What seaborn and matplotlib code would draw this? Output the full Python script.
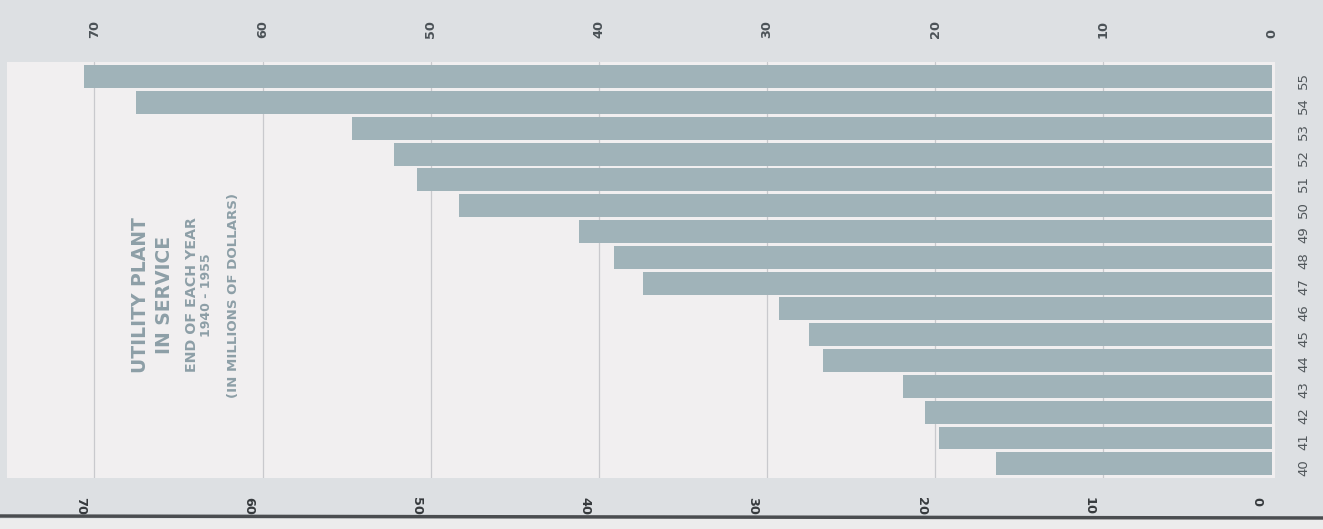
import pandas as pd
import matplotlib
matplotlib.use('Agg')
import matplotlib.pyplot as plt
import seaborn as sns
from matplotlib.lines import Line2D

# data (top bar = 1955)
years = ['55', '54', '53', '52', '51', '50', '49', '48', '47', '46', '45', '44', '43', '42', '41', '40']
plant = [70.6, 67.5, 54.7, 52.2, 50.8, 48.3, 41.2, 39.1, 37.4, 29.3, 27.5, 26.7, 21.9, 20.6, 19.8, 16.4]
value_ticks = [70, 60, 50, 40, 30, 20, 10, 0]
title_lines = ['UTILITY PLANT', 'IN SERVICE', 'END OF EACH YEAR', '1940 - 1955', '(IN MILLIONS OF DOLLARS)']

sns.set_style('white')
plt.rcParams['font.family'] = ['DejaVu Sans']

W, H = 1323, 529
bar_color = '#a0b3b9'
text_color = '#8d9fa7'

fig = plt.figure(figsize=(W / 100, H / 100), dpi=100, facecolor='#dde0e3')
ax = fig.add_axes([7 / W, 1 - 478 / H, 1268 / W, 416 / H])
ax.set_facecolor('#f1eff0')

df = pd.DataFrame({'year': years, 'plant': plant})
sns.barplot(data=df, x='plant', y='year', order=years, orient='h', color=bar_color,
            saturation=1, width=0.89, linewidth=0, ax=ax, zorder=2)

ax.set_xlim(75.2, -0.2)
ax.set_ylim(15.55, -0.57)
ax.set_xlabel('')
ax.set_ylabel('')
for s in ax.spines.values():
    s.set_visible(False)

# value axis on top, rotated like the page
ax.set_xticks(value_ticks)
ax.grid(axis='x', color='#c9c9cd', linewidth=0.9)
ax.get_xgridlines()[-1].set_visible(False)
ax.set_axisbelow(True)
ax.xaxis.tick_top()
ax.tick_params(axis='x', top=True, bottom=False, labeltop=True, labelbottom=False,
               length=0, pad=17, labelrotation=90, labelsize=9.3, labelcolor='#4b5257')
for lbl in ax.get_xticklabels():
    lbl.set_fontweight('bold')

# years on the right
ax.yaxis.tick_right()
ax.tick_params(axis='y', right=True, left=False, labelright=True, labelleft=False,
               length=0, pad=16, labelrotation=90, labelsize=9.5, labelcolor='#50565a')

# scale of the facing page, showing at the bottom
sec = ax.secondary_xaxis('bottom', functions=(lambda x: x - 0.85, lambda x: x + 0.85))
sec.set_xticks(value_ticks)
sec.tick_params(length=0, pad=14, labelrotation=-90, labelsize=9.3, labelcolor='#363a3d')
for lbl in sec.get_xticklabels():
    lbl.set_fontweight('bold')
for s in sec.spines.values():
    s.set_visible(False)

# title block, rotated
title_x = [140, 164, 192, 207, 234]
title_size = [13.5, 13.5, 10.3, 9, 9.6]
for txt, xp, fs in zip(title_lines, title_x, title_size):
    fig.text(xp / W, 1 - 295 / H, txt, rotation=90, ha='center', va='center',
             fontsize=fs, fontweight='bold', color=text_color)

# page edge at the bottom
fig.add_artist(plt.Rectangle((0, 0), 1, 10 / H, transform=fig.transFigure,
                             color='#ececec', zorder=5))
fig.add_artist(Line2D([0, 1], [13 / H, 11 / H], transform=fig.transFigure,
                      color='#4a4d50', linewidth=2.5, zorder=6))

fig.savefig('out.png', dpi=100, facecolor=fig.get_facecolor())
